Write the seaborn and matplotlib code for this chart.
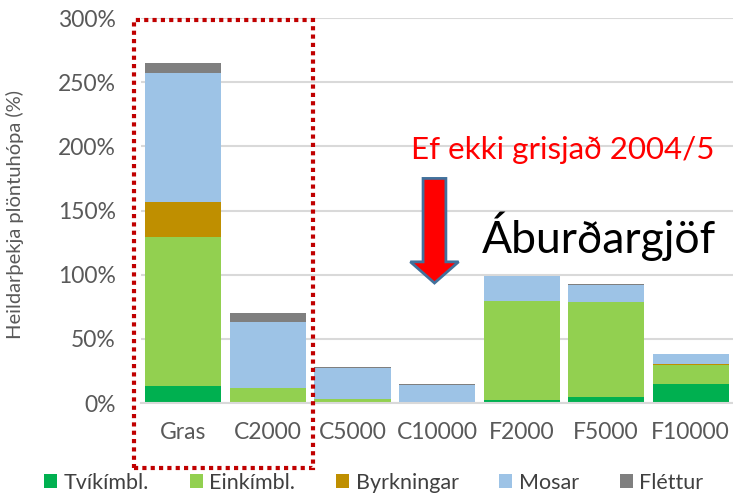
import numpy as np
import pandas as pd
import matplotlib
matplotlib.use("Agg")
import matplotlib.pyplot as plt
import seaborn as sns
from matplotlib.patches import Rectangle, FancyArrow, Patch

categories = ["Gras", "C2000", "C5000", "C10000", "F2000", "F5000", "F10000"]
tvikimbl = [13, 1, 0, 0, 2, 5, 15]
einkimbl = [116, 11, 3, 1, 77.5, 73.5, 14.5]
byrkningar = [28, 0, 0, 0, 0, 0.5, 0.8]
mosar = [100, 51, 24, 13, 19.5, 13, 8]
flettur = [8, 7, 1, 1, 0, 0.6, 0]
series_names = ["Tvíkímbl.", "Einkímbl.", "Byrkningar", "Mosar", "Fléttur"]
colors = ["#00b050", "#92d050", "#bf8f00", "#9dc3e6", "#7f7f7f"]
yticks = [0, 50, 100, 150, 200, 250, 300]

sns.set_theme(style="white")
plt.rcParams['font.family'] = ['Lato', 'DejaVu Sans']

fig = plt.figure(figsize=(7.33, 5.03), dpi=100)
ax = fig.add_axes([0.1924, 0.1988, 0.8076, 0.7654])

layers = [tvikimbl, einkimbl, byrkningar, mosar, flettur]
cum = np.cumsum(np.array(layers, dtype=float), axis=0)

# draw from the top layer down, each as cumulative bar (overlay = stacked)
for i in range(len(layers) - 1, -1, -1):
    df = pd.DataFrame({"cat": categories, "val": cum[i]})
    sns.barplot(data=df, x="cat", y="val", color=colors[i], saturation=1,
                width=0.9, linewidth=0, ax=ax, zorder=2)

ax.set_xlim(-0.5, 6.5)
ax.set_ylim(0, 300)
ax.set_yticks(yticks)
ax.set_yticklabels([f"{v}%" for v in yticks])
ax.yaxis.grid(True, color="#d9d9d9", linewidth=1.5, zorder=0)
ax.set_axisbelow(True)
for s in ["top", "right", "left"]:
    ax.spines[s].set_visible(False)
ax.spines["bottom"].set_color("#d9d9d9")
ax.spines["bottom"].set_linewidth(1.5)
ax.tick_params(axis="both", length=0, colors="#595959", labelsize=16.5)
ax.tick_params(axis="x", pad=14)
ax.tick_params(axis="y", pad=18)
ax.set_xlabel("")
ax.set_ylabel("Heildarþekja plöntuhópa (%)", color="#595959", fontsize=14.5, labelpad=4)
ax.yaxis.set_label_coords(-0.197, 0.49)

# dotted frame around Gras and C2000
rect = Rectangle((134 / 733, 1 - 468 / 503), (313 - 134) / 733, (468 - 20) / 503,
                 transform=fig.transFigure, fill=False, edgecolor="#c00000",
                 linewidth=3, linestyle=(0, (1, 1)), zorder=5)
fig.patches.append(rect)

# arrow
arrow = FancyArrow(2.97, 175, 0, -81.5, width=0.27, head_width=0.57, head_length=16.5,
                   length_includes_head=True, facecolor="#ff0000", edgecolor="#41719c",
                   linewidth=2, zorder=6)
ax.add_patch(arrow)

ax.text(2.69, 197, "Ef ekki grisjað 2004/5", color="#ff0000", fontsize=22.5,
        ha="left", va="center", zorder=6)
ax.text(3.53, 130, "Áburðargjöf", color="black", fontsize=32,
        ha="left", va="center", zorder=6)

handles = [Patch(facecolor=c, edgecolor="none") for c in colors]
fig.legend(handles, series_names, loc="lower center", bbox_to_anchor=(0.51, -0.018),
           ncol=5, frameon=False, fontsize=15.5, handlelength=0.6, handleheight=0.6,
           handletextpad=0.3, columnspacing=1.9, labelcolor="#404040")

fig.savefig("out.png", dpi=100)
